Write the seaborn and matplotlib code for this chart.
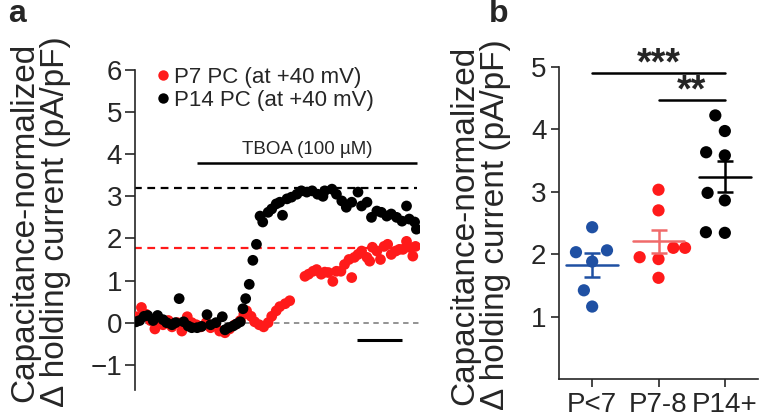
import numpy as np
import pandas as pd
import matplotlib
matplotlib.use("Agg")
import matplotlib.pyplot as plt
import seaborn as sns
from matplotlib.lines import Line2D

# ---------------- data: panel a (time course, minutes) ----------------
p14_time = [0.0, 0.4, 0.9, 1.3, 1.9, 2.4, 3.0, 3.4, 4.0, 4.4, 4.8, 5.3, 5.8, 6.2, 6.8,
            7.3, 7.9, 8.3, 8.9, 9.6, 9.9, 10.3, 10.8, 11.2, 11.6, 11.9, 12.2, 12.6, 13.0,
            13.4, 13.8, 14.1, 14.7, 15.1, 15.6, 16.0, 16.3, 16.8, 17.3, 17.9, 18.4, 19.0,
            19.6, 20.2, 20.8, 21.0, 21.8, 22.3, 22.9, 23.4, 24.0, 24.7, 25.1, 25.7, 26.2,
            26.8, 27.3, 27.9, 28.4, 29.0, 29.6, 30.1, 30.4, 31.0, 31.2]
p14_current = [0.02, 0.05, 0.15, 0.17, 0.05, 0.17, 0.07, 0.0, -0.05, 0.0, 0.57, 0.02, -0.08,
               -0.12, -0.12, -0.09, 0.19, -0.05, 0.0, 0.14, -0.17, -0.12, -0.08, -0.03, 0.02,
               0.33, 0.57, 0.91, 1.48, 1.86, 2.53, 2.39, 2.62, 2.70, 2.82, 2.86, 2.55, 2.94,
               2.98, 3.05, 3.13, 3.10, 3.13, 3.05, 3.00, 3.13, 3.17, 3.05, 2.89, 2.74, 2.86,
               3.10, 2.77, 2.86, 2.50, 2.65, 2.62, 2.53, 2.58, 2.50, 2.41, 2.77, 2.46, 2.39, 2.22]

p7_time = [0.1, 0.6, 1.1, 1.6, 2.1, 2.6, 3.0, 3.6, 4.0, 4.6, 5.1, 5.7, 6.2, 6.7, 7.2, 7.8,
           8.3, 8.8, 9.3, 9.9, 10.4, 11.0, 11.6, 12.0, 12.3, 12.8, 13.2, 13.7, 14.2, 14.7,
           15.1, 15.6, 16.0, 16.6, 17.1, 18.8, 19.2, 19.7, 20.1, 20.6, 21.0, 21.4, 21.9,
           22.3, 22.8, 23.2, 23.7, 24.0, 24.3, 24.7, 25.1, 25.7, 26.0, 26.3, 26.8, 27.2,
           27.6, 28.0, 28.4, 28.9, 29.3, 29.7, 30.1, 30.4, 30.8, 31.1]
p7_current = [0.14, 0.36, 0.20, 0.05, -0.15, 0.0, -0.05, 0.05, -0.10, 0.0, -0.20, 0.14, 0.0,
              -0.05, -0.10, 0.0, -0.12, -0.05, -0.20, -0.24, -0.15, -0.05, 0.05, 0.20, 0.28,
              0.15, 0.02, -0.05, -0.10, 0.0, 0.15, 0.28, 0.38, 0.45, 0.52, 1.10, 1.15, 1.22,
              1.26, 1.15, 1.20, 1.19, 0.98, 1.22, 1.22, 1.38, 1.50, 1.07, 1.55, 1.62, 1.70,
              1.55, 1.46, 1.79, 1.70, 1.50, 1.81, 1.86, 1.62, 1.70, 1.74, 1.74, 1.93, 1.79,
              1.58, 1.81]

series_labels = ["P7 PC (at +40 mV)", "P14 PC (at +40 mV)"]
p14_plateau = 3.19
p7_plateau = 1.77
tboa_start, tboa_end = 6.8, 31.3
tboa_level = 3.79
tboa_label = "TBOA (100 µM)"
scalebar_start, scalebar_end = 24.6, 29.6   # 5 min
scalebar_level = -0.41

# ---------------- data: panel b ----------------
groups = ["P<7", "P7-8", "P14+"]
vals_p7less = [2.03, 2.06, 1.88, 2.43, 1.42, 1.16]
vals_p78 = [3.03, 2.70, 2.10, 2.10, 1.95, 1.92, 1.62]
vals_p14 = [4.22, 3.97, 3.58, 3.63, 2.98, 2.86, 2.34, 2.35]
sig_labels = ["***", "**"]

ylabel = "Capacitance-normalized\nΔ holding current (pA/pF)"

RED = "#FF1A1A"
BLUE = "#1F50A3"
BLACK = "#000000"

sns.set_style("ticks")
plt.rcParams["font.family"] = ["Liberation Sans", "DejaVu Sans"]

fig = plt.figure(figsize=(7.7, 4.2), dpi=100)

# ---------------- panel a ----------------
axa = fig.add_axes([134.5 / 770, 1 - 390 / 420, (420 - 134.5) / 770, 320 / 420])
df_a = pd.concat([
    pd.DataFrame({"time": p7_time, "current": p7_current, "cell": series_labels[0]}),
    pd.DataFrame({"time": p14_time, "current": p14_current, "cell": series_labels[1]}),
])
sns.scatterplot(data=df_a, x="time", y="current", hue="cell",
                palette={series_labels[0]: RED, series_labels[1]: BLACK},
                s=60, linewidth=0, edgecolor="none", ax=axa, legend=False, zorder=3)

axa.axhline(0, color="#8a8a8a", lw=1.3, ls=(0, (3, 2.5)), zorder=1)
axa.plot([-0.2, 31.3], [p14_plateau] * 2, color=BLACK, lw=1.6, ls=(0, (3.5, 2.5)), zorder=2)
axa.plot([-0.2, 31.3], [p7_plateau] * 2, color=RED, lw=1.6, ls=(0, (3.5, 2.5)), zorder=2)
axa.plot([tboa_start, tboa_end], [tboa_level] * 2, color=BLACK, lw=1.8, solid_capstyle="butt")
axa.text((tboa_start + tboa_end) / 2, tboa_level + 0.13, tboa_label, ha="center", va="bottom",
         fontsize=13.5)
axa.plot([scalebar_start, scalebar_end], [scalebar_level] * 2, color=BLACK, lw=2.2,
         solid_capstyle="butt")

axa.set_xlim(-0.17, 31.6)
axa.set_ylim(-1.6, 6)
axa.set_yticks(range(-1, 7))
axa.set_xticks([])
axa.set_xlabel("")
axa.set_ylabel("")
for sp in ["top", "right", "bottom"]:
    axa.spines[sp].set_visible(False)
axa.spines["left"].set_linewidth(1.2)
axa.tick_params(axis="y", direction="out", length=7, width=1.2, labelsize=20, pad=2)

handles = [Line2D([], [], ls="", marker="o", color=RED, markersize=7.5, markeredgewidth=0),
           Line2D([], [], ls="", marker="o", color=BLACK, markersize=7.5, markeredgewidth=0)]
axa.legend(handles, series_labels, loc="upper left", bbox_to_anchor=(0.075, 1.01),
           frameon=False, fontsize=16, handlelength=0.6, handletextpad=0.2,
           labelspacing=0.08, borderpad=0, borderaxespad=0)

fig.text(40 / 770, 1 - 222 / 420, ylabel, rotation=90, ha="center", va="center",
         fontsize=24, linespacing=1.02, multialignment="center")
fig.text(8 / 770, 1 - 14 / 420, "a", fontsize=23, fontweight="bold", ha="left", va="center")

# ---------------- panel b ----------------
axb = fig.add_axes([559 / 770, 1 - 379 / 420, (758 - 559) / 770, (379 - 66.7) / 420])
df_b = pd.concat([
    pd.DataFrame({"group": groups[0], "value": vals_p7less}),
    pd.DataFrame({"group": groups[1], "value": vals_p78}),
    pd.DataFrame({"group": groups[2], "value": vals_p14}),
])
axb.set_xlim(-0.5, 2.5)
axb.set_ylim(0, 5)
sns.swarmplot(data=df_b, x="group", y="value", hue="group", order=groups,
              palette={groups[0]: BLUE, groups[1]: RED, groups[2]: BLACK},
              size=13, linewidth=0, ax=axb, legend=False, zorder=3)
axb.set_xlim(-0.5, 2.5)
axb.set_ylim(0, 5)
# lay the swarm out with the wider spacing, then freeze it and draw smaller dots
fig.canvas.draw()
for coll in axb.collections:
    if "draw" in coll.__dict__:
        del coll.draw
    coll.set_sizes([8.8 ** 2])

mean_colors = [BLUE, "#F06A6A", BLACK]
for i, (g, c) in enumerate(zip(groups, mean_colors)):
    v = df_b.loc[df_b["group"] == g, "value"].to_numpy()
    m = v.mean()
    se = v.std(ddof=1) / np.sqrt(len(v))
    axb.plot([i - 0.39, i + 0.39], [m, m], color=c, lw=1.8, zorder=4)
    axb.errorbar([i], [m], yerr=[se], color=c, lw=1.8, capsize=5.5, capthick=1.8, zorder=4,
                 fmt="none")

axb.plot([0, 2], [4.90, 4.90], color=BLACK, lw=1.8, clip_on=False)
axb.plot([1, 2], [4.47, 4.47], color=BLACK, lw=1.8, clip_on=False)
axb.text(1.0, 5.04, sig_labels[0], ha="center", va="center", fontsize=27, fontweight="bold",
         clip_on=False)
axb.text(1.5, 4.61, sig_labels[1], ha="center", va="center", fontsize=27, fontweight="bold",
         clip_on=False)

axb.set_xlim(-0.5, 2.5)
axb.set_ylim(0, 5)
axb.set_yticks([1, 2, 3, 4, 5])
axb.set_xlabel("")
axb.set_ylabel("")
for sp in ["top", "right"]:
    axb.spines[sp].set_visible(False)
axb.spines["left"].set_linewidth(1.2)
axb.spines["bottom"].set_linewidth(1.2)
axb.tick_params(axis="both", direction="out", length=6, width=1.2, labelsize=20, pad=3)

fig.text(480 / 770, 1 - 225 / 420, ylabel, rotation=90, ha="center", va="center",
         fontsize=24, linespacing=1.02, multialignment="center")
fig.text(489 / 770, 1 - 14 / 420, "b", fontsize=23, fontweight="bold", ha="left", va="center")

fig.savefig("out.png", dpi=100)
